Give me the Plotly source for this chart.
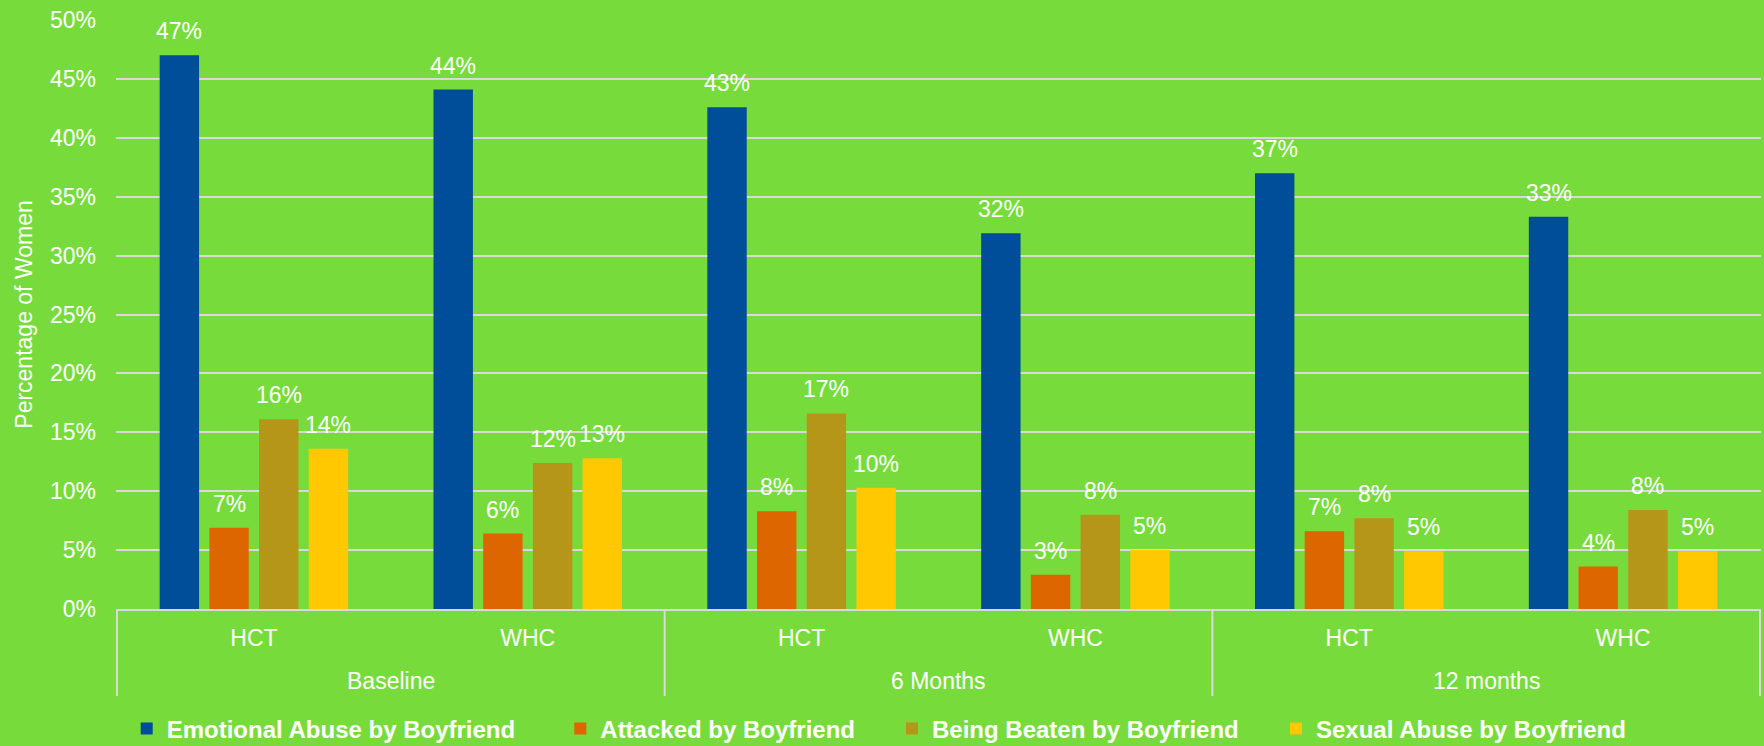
import plotly.graph_objects as go

periods = ["Baseline", "Baseline", "6 Months", "6 Months", "12 months", "12 months"]
sites = ["HCT", "WHC", "HCT", "WHC", "HCT", "WHC"]

series_names = [
    "Emotional Abuse by Boyfriend",
    "Attacked by Boyfriend",
    "Being Beaten by Boyfriend",
    "Sexual Abuse by Boyfriend",
]
emotional = [0.470, 0.441, 0.426, 0.319, 0.370, 0.333]
attacked = [0.069, 0.064, 0.083, 0.029, 0.066, 0.036]
beaten = [0.161, 0.124, 0.166, 0.080, 0.077, 0.084]
sexual = [0.136, 0.128, 0.103, 0.050, 0.049, 0.049]
series_values = [emotional, attacked, beaten, sexual]
colors = ["#004D99", "#DE6600", "#B59619", "#FFC800"]

tick_vals = [0, 0.05, 0.10, 0.15, 0.20, 0.25, 0.30, 0.35, 0.40, 0.45, 0.50]
tick_text = ["0%", "5%", "10%", "15%", "20%", "25%", "30%", "35%", "40%", "45%", "50%"]

BG = "#78DB3C"
GRID = "#D9D9D9"
FONT = "Liberation Sans, Arial, sans-serif"
BARGAP = 0.274
BARGROUPGAP = 0.207

cats = [f"{p} {s}" for p, s in zip(periods, sites)]
legend_text_x = [166.7, 600.3, 932.0, 1316.0]  # approx. text start in px
W, H = 1764, 746

fig = go.Figure()
n = len(series_names)
annotations = []
for k, (name, vals, col) in enumerate(zip(series_names, series_values, colors)):
    lg = "legend" if k == 0 else f"legend{k + 1}"
    fig.add_trace(go.Bar(
        name=name,
        x=cats,
        y=vals,
        marker=dict(color=col, line=dict(width=0)),
        legend=lg,
        hovertemplate="%{y:.1%}<extra>" + name + "</extra>",
    ))
    slot = (1 - BARGAP) / n
    off = -(1 - BARGAP) / 2 + (k + 0.5) * slot
    for i, v in enumerate(vals):
        annotations.append(dict(
            x=i + off, y=v, xref="x", yref="y",
            text=f"{round(v * 100)}%", showarrow=False,
            yanchor="bottom", xanchor="center", yshift=9,
            font=dict(size=23, color="white", family=FONT),
        ))

# period (outer category) labels and dividers
uniq = []
for p in periods:
    if p not in uniq:
        uniq.append(p)
shapes = []
bounds = [-0.5]
for p in uniq:
    idx = [i for i, q in enumerate(periods) if q == p]
    annotations.append(dict(
        x=sum(idx) / len(idx), y=0, xref="x", yref="paper",
        text=p, showarrow=False, yanchor="middle", yshift=-72,
        font=dict(size=23, color="white", family=FONT),
    ))
    bounds.append(max(idx) + 0.5)
for b in bounds:
    shapes.append(dict(
        type="line", xref="x", yref="paper", ysizemode="pixel", yanchor=0,
        x0=b, x1=b, y0=0, y1=-87,
        line=dict(color=GRID, width=2),
    ))

layout_legends = {}
for k in range(n):
    key = "legend" if k == 0 else f"legend{k + 1}"
    layout_legends[key] = dict(
        orientation="h",
        xref="container", yref="container",
        x=(legend_text_x[k] - 40) / W, xanchor="left",
        y=(H - 729) / H, yanchor="middle",
        font=dict(size=24, color="white", family=FONT, weight="bold"),
        bgcolor="rgba(0,0,0,0)",
        itemwidth=30,
    )

fig.update_layout(
    width=W,
    height=H,
    paper_bgcolor=BG,
    plot_bgcolor=BG,
    barmode="group",
    bargap=BARGAP,
    bargroupgap=BARGROUPGAP,
    margin=dict(l=116, r=3, t=20, b=137),
    font=dict(family=FONT, color="white", size=23),
    showlegend=True,
    annotations=annotations,
    shapes=shapes,
    **layout_legends,
)
fig.update_yaxes(
    range=[0, 0.5],
    tickvals=tick_vals,
    ticktext=tick_text,
    showgrid=True,
    gridcolor=GRID,
    gridwidth=2,
    zeroline=False,
    showline=False,
    ticks="",
    ticklabelstandoff=19,
    tickfont=dict(size=23, color="white", family=FONT),
    title=dict(text="Percentage of Women", font=dict(size=23, color="white", family=FONT), standoff=10),
    automargin=False,
)
fig.update_xaxes(
    type="category",
    tickvals=cats,
    ticktext=sites,
    showline=True,
    linecolor=GRID,
    linewidth=2,
    ticks="",
    ticklabelstandoff=7,
    tickfont=dict(size=23, color="white", family=FONT),
    showgrid=False,
    automargin=False,
)

fig.write_html(
    "out.html",
    config={"displayModeBar": False},
    post_script="document.body.style.margin='0px';document.body.style.overflow='hidden';",
)
